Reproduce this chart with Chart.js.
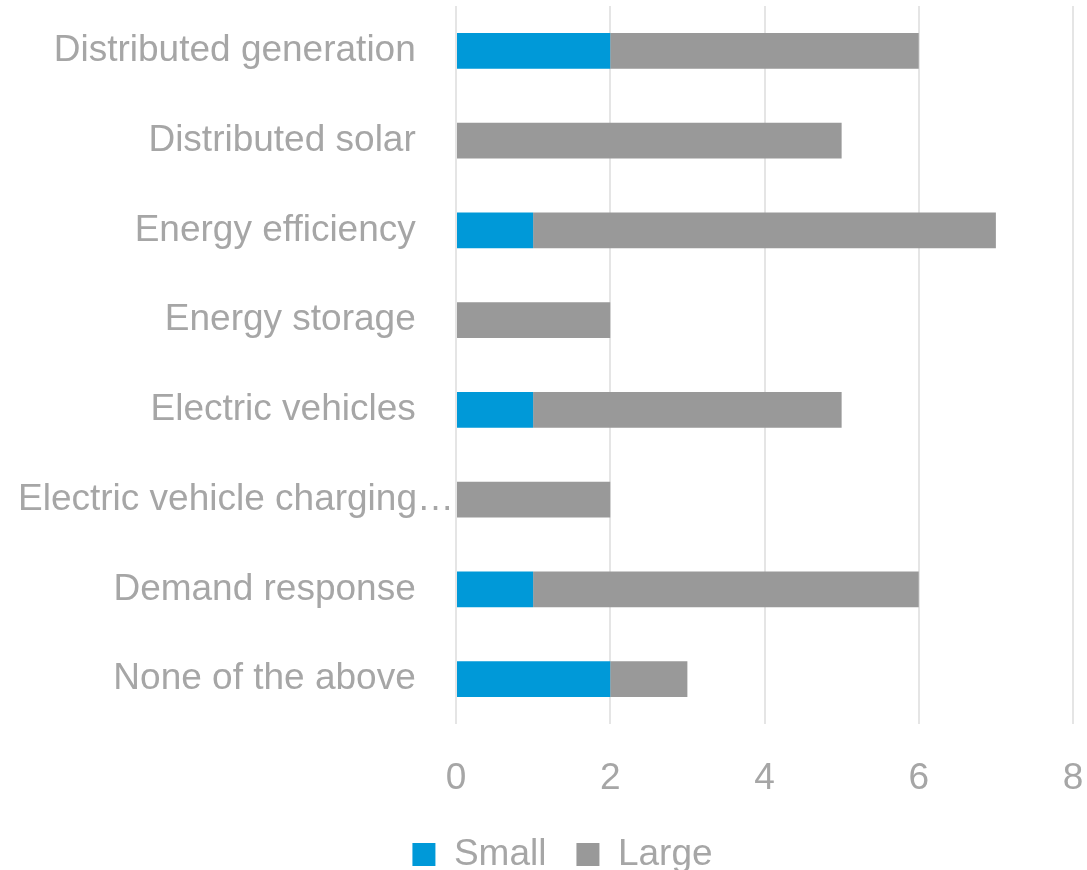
<!DOCTYPE html>
<html>
<head>
<meta charset="utf-8">
<script src="https://cdn.jsdelivr.net/npm/chart.js@4/dist/chart.umd.min.js"></script>
<style>
  html, body { margin: 0; padding: 0; background: #ffffff; }
  #wrap { width: 1087px; height: 870px; }
</style>
</head>
<body>
<div id="wrap"><canvas id="chart"></canvas></div>
<script>
// Data
const categories = [
    'Distributed generation',
    'Distributed solar',
    'Energy efficiency',
    'Energy storage',
    'Electric vehicles',
    'Electric vehicle charging\u2026',
    'Demand response',
    'None of the above'
];
const smallValues = [2, 0, 1, 0, 1, 0, 1, 2];
const largeValues = [4, 5, 6, 2, 4, 2, 5, 1];
const xTicks = [0, 2, 4, 6, 8];

const textColor = '#a6a6a6';
const fontFamily = '"Liberation Sans", Arial, sans-serif';

// pull the legend closer to the bottom edge and nudge it right, like the original
const legendShift = {
    id: 'legendShift',
    beforeInit: function(chart) {
        const fit = chart.legend.fit;
        chart.legend.fit = function() {
            fit.call(this);
            this.height -= 13;
        };
    },
    afterLayout: function(chart) {
        chart.legend.left += 26;
        chart.legend.right += 26;
    }
};

const ctx = document.getElementById('chart');
new Chart(ctx, {
    type: 'bar',
    data: {
        labels: categories,
        datasets: [{
            label: 'Small',
            data: smallValues,
            backgroundColor: '#0099d8',
            borderWidth: 0,
            categoryPercentage: 1,
            barPercentage: 0.4
        }, {
            label: 'Large',
            data: largeValues,
            backgroundColor: '#999999',
            borderWidth: 0,
            categoryPercentage: 1,
            barPercentage: 0.4
        }]
    },
    plugins: [legendShift],
    options: {
        indexAxis: 'y',
        responsive: true,
        maintainAspectRatio: false,
        animation: false,
        layout: {
            padding: { left: 0, right: 14, top: 6, bottom: 0 }
        },
        plugins: {
            legend: {
                position: 'bottom',
                labels: {
                    color: textColor,
                    font: { family: fontFamily, size: 37 },
                    boxWidth: 23,
                    boxHeight: 23,
                    padding: 30
                }
            },
            tooltip: { enabled: false }
        },
        scales: {
            x: {
                stacked: true,
                min: 0,
                max: 8,
                afterBuildTicks: function(scale) {
                    scale.ticks = xTicks.map(v => ({ value: v }));
                },
                afterFit: function(scale) {
                    scale.paddingLeft = 0;
                    scale.paddingRight = 0;
                    scale.height = 82;
                },
                ticks: {
                    color: textColor,
                    font: { family: fontFamily, size: 37 },
                    padding: 33
                },
                grid: {
                    color: '#e5e5e5',
                    lineWidth: 2,
                    drawTicks: false
                },
                border: { display: false }
            },
            y: {
                stacked: true,
                afterFit: function(scale) {
                    scale.width = 456;
                    scale.paddingTop = 0;
                    scale.paddingBottom = 0;
                },
                ticks: {
                    color: textColor,
                    font: { family: fontFamily, size: 37 },
                    padding: 2,
                    autoSkip: false,
                    // the truncated label runs further right than the others
                    callback: function(value, index) {
                        const label = this.getLabelForValue(value);
                        return label.endsWith('\u2026') ? label : label + '   \u2009';
                    }
                },
                grid: { display: false, drawTicks: false },
                border: { display: false }
            }
        }
    }
});
</script>
</body>
</html>
